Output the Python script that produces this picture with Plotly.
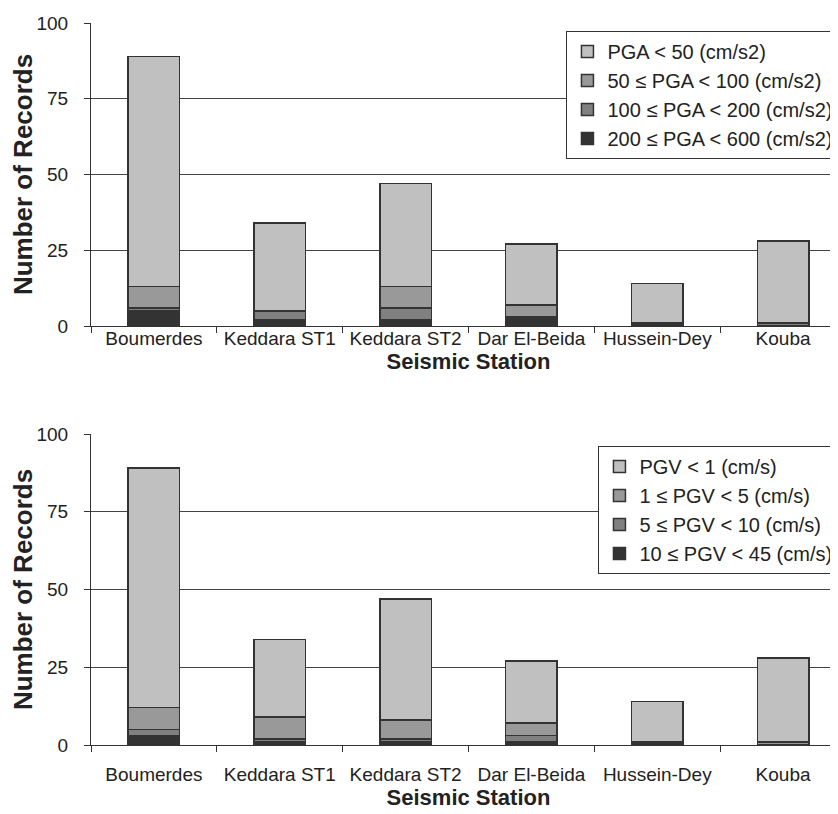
import plotly.graph_objects as go
from plotly.subplots import make_subplots

stations = ["Boumerdes", "Keddara ST1", "Keddara ST2", "Dar El-Beida", "Hussein-Dey", "Kouba"]

# PGA counts (top chart)
pga_lt50 = [76, 29, 34, 20, 13, 27]
pga_50_100 = [7, 0, 7, 4, 0, 0]
pga_100_200 = [1, 3, 4, 0, 0, 1]
pga_200_600 = [5, 2, 2, 3, 1, 0]
pga_names = ["PGA < 50 (cm/s2)", "50 ≤ PGA < 100 (cm/s2)", "100 ≤ PGA < 200 (cm/s2)", "200 ≤ PGA < 600 (cm/s2)"]

# PGV counts (bottom chart)
pgv_lt1 = [77, 25, 39, 20, 13, 27]
pgv_1_5 = [7, 7, 6, 4, 0, 1]
pgv_5_10 = [2, 1, 1, 2, 0, 0]
pgv_10_45 = [3, 1, 1, 1, 1, 0]
pgv_names = ["PGV < 1 (cm/s)", "1 ≤ PGV < 5 (cm/s)", "5 ≤ PGV < 10 (cm/s)", "10 ≤ PGV < 45 (cm/s)"]

y_ticks = [0, 25, 50, 75, 100]
colors = ["#c0c0c0", "#999999", "#808080", "#333333"]

fig = make_subplots(rows=2, cols=1, shared_xaxes=False, vertical_spacing=0.1)

top_series = [pga_lt50, pga_50_100, pga_100_200, pga_200_600]
bot_series = [pgv_lt1, pgv_1_5, pgv_5_10, pgv_10_45]

for i in [3, 2, 1, 0]:
    fig.add_trace(go.Bar(x=stations, y=top_series[i], name=pga_names[i],
                         marker=dict(color=colors[i], line=dict(color="#333333", width=1.5)),
                         legend="legend", legendgroup="a%d" % i), row=1, col=1)
for i in [3, 2, 1, 0]:
    fig.add_trace(go.Bar(x=stations, y=bot_series[i], name=pgv_names[i],
                         marker=dict(color=colors[i], line=dict(color="#333333", width=1.5)),
                         legend="legend2", legendgroup="b%d" % i), row=2, col=1)

font = "Liberation Sans, Arial, sans-serif"
txt = "#222222"
axis_common_x = dict(showline=True, linecolor="#333333", linewidth=1.2, ticks="outside",
                     tickson="boundaries", ticklen=6, tickcolor="#333333",
                     tickfont=dict(family=font, size=19, color=txt),
                     showgrid=False, automargin=False)
axis_common_y = dict(range=[0, 100], tickvals=y_ticks, showline=True, linecolor="#333333",
                     linewidth=1.2, ticks="outside", ticklen=6, tickcolor="#333333",
                     tickfont=dict(family=font, size=19, color=txt), ticklabelstandoff=12,
                     showgrid=True, gridcolor="#444444", gridwidth=1, zeroline=False,
                     automargin=False,
                     title=dict(text="<b>Number of Records</b>", font=dict(family=font, size=26, color=txt), standoff=1))

fig.update_xaxes(**axis_common_x)
fig.update_yaxes(**axis_common_y)
fig.update_xaxes(title=dict(text="<b>Seismic Station</b>", font=dict(family=font, size=22, color=txt), standoff=3),
                 ticklabelstandoff=-5, row=1, col=1)
fig.update_xaxes(title=dict(text="<b>Seismic Station</b>", font=dict(family=font, size=22, color=txt), standoff=5),
                 ticklabelstandoff=12, row=2, col=1)

def fy(px):
    return (737 - px) / 722.0

fig.update_layout(
    width=838, height=814,
    margin=dict(l=83, r=0, t=15, b=77),
    plot_bgcolor="white", paper_bgcolor="white",
    barmode="stack", bargap=0.59,
    xaxis=dict(domain=[0, 1]), xaxis2=dict(domain=[0, 1]),
    yaxis=dict(domain=[fy(318), 1.0]),
    yaxis2=dict(domain=[0.0, fy(426)]),
    legend=dict(x=0.99, xanchor="right", y=fy(23), yanchor="top", traceorder="reversed",
                bordercolor="#333333", borderwidth=1, bgcolor="white",
                font=dict(family=font, size=20, color=txt), tracegroupgap=8,
                itemwidth=30),
    legend2=dict(x=0.99, xanchor="right", y=fy(438), yanchor="top", traceorder="reversed",
                 bordercolor="#333333", borderwidth=1, bgcolor="white",
                 font=dict(family=font, size=20, color=txt), tracegroupgap=6,
                 itemwidth=30),
    showlegend=True,
)

fig.write_html("out.html")
